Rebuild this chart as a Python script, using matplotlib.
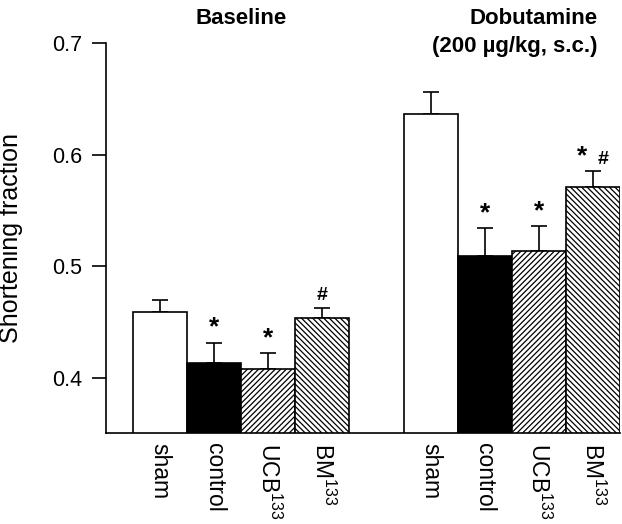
import matplotlib
matplotlib.use("Agg")
import matplotlib.pyplot as plt

plt.rcParams["font.family"] = ["Liberation Sans", "DejaVu Sans"]
plt.rcParams["mathtext.default"] = "regular"
plt.rcParams["hatch.linewidth"] = 0.9

groups = ["Baseline", "Dobutamine", "(200 µg/kg, s.c.)"]
treatments = ["sham", "control", "UCB$^{133}$", "BM$^{133}$"]

baseline_mean = [0.459, 0.4135, 0.408, 0.4536]
baseline_err = [0.011, 0.018, 0.014, 0.009]
dobutamine_mean = [0.637, 0.509, 0.514, 0.571]
dobutamine_err = [0.019, 0.025, 0.022, 0.014]

baseline_marks = ["", "*", "*", "#"]
dobutamine_marks = ["", "*", "*", "*#"]

fills = ["white", "black", "white", "white"]
hatches = ["", "", "//////", "\\\\\\\\\\\\"]


def draw_group(ax, start, means, errs, marks):
    xs = [start + i for i in range(len(means))]
    ax.bar(xs, means, width=1.0, color=fills, edgecolor="black",
           linewidth=1.2, hatch=hatches, zorder=2)
    ax.errorbar(xs, means, yerr=[[0] * len(errs), errs], fmt="none",
                ecolor="black", elinewidth=1.2, capsize=6, capthick=1.2,
                zorder=1)
    for x, m, e, mark in zip(xs, means, errs, marks):
        top = m + e + 0.007
        if mark == "*#":
            ax.text(x - 0.2, top, "*", ha="center", va="baseline",
                    fontsize=19, fontweight="bold")
            ax.text(x + 0.18, top, "#", ha="center", va="baseline",
                    fontsize=14, fontweight="bold")
        elif mark == "*":
            ax.text(x, top, "*", ha="center", va="baseline",
                    fontsize=19, fontweight="bold")
        elif mark == "#":
            ax.text(x, top, "#", ha="center", va="baseline",
                    fontsize=14, fontweight="bold")
    return xs


fig = plt.figure(figsize=(6.22, 5.24), dpi=100)
ax = fig.add_axes([0.1704, 0.173, 0.8264, 0.7443])

xs1 = draw_group(ax, 0, baseline_mean, baseline_err, baseline_marks)
xs2 = draw_group(ax, 5, dobutamine_mean, dobutamine_err, dobutamine_marks)

ax.set_xlim(-1.0, 8.5)
ax.set_ylim(0.35, 0.7)
ax.set_yticks([0.4, 0.5, 0.6, 0.7])
ax.set_yticklabels(["0.4", "0.5", "0.6", "0.7"])
ax.set_xticks(xs1 + xs2)
ax.set_xticklabels(treatments * 2, rotation=270, va="top", ha="center",
                   fontsize=16.5)
ax.tick_params(axis="x", length=0, pad=7)
ax.tick_params(axis="y", length=10, width=1.2, pad=7, labelsize=15.5)

for side in ["top", "right"]:
    ax.spines[side].set_visible(False)
for side in ["left", "bottom"]:
    ax.spines[side].set_linewidth(1.2)

ax.set_ylabel("Shortening fraction", fontsize=18)
ax.yaxis.set_label_coords(-0.161, 0.5)

ax.text(sum(xs1) / 4, 0.7224, groups[0], ha="center", va="center",
        fontsize=16, fontweight="bold", clip_on=False)
ax.text(8.08, 0.7224, groups[1], ha="right", va="center",
        fontsize=16, fontweight="bold", clip_on=False)
ax.text(8.08, 0.6972, groups[2], ha="right", va="center",
        fontsize=16, fontweight="bold", clip_on=False)

fig.savefig("out.png", dpi=100)
